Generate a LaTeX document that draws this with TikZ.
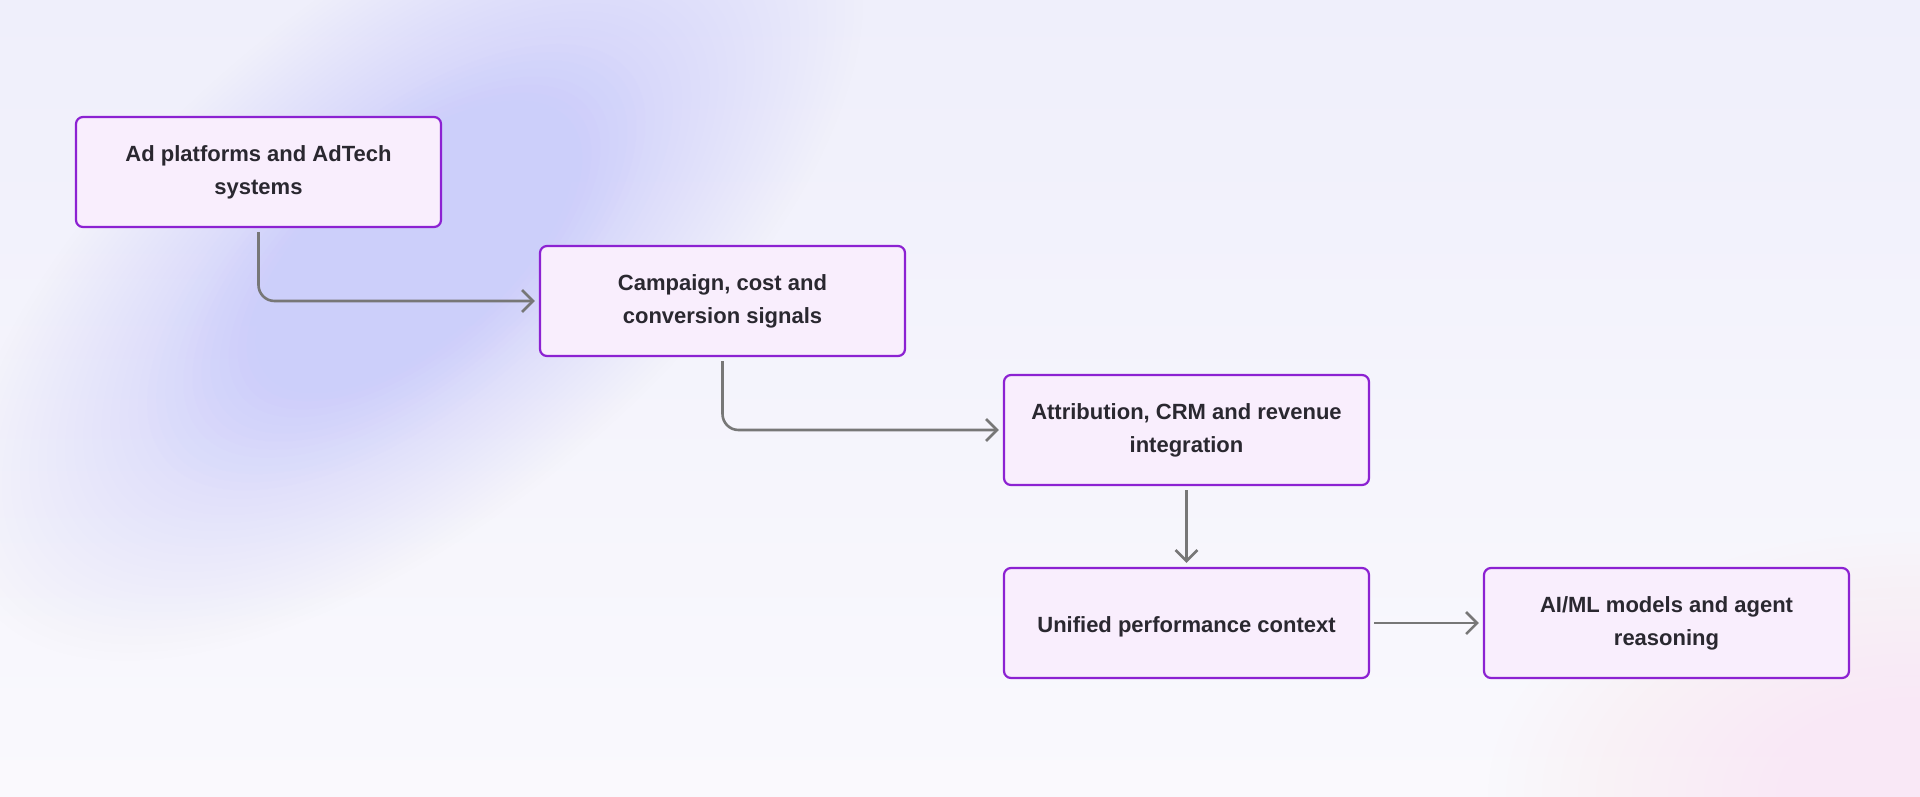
\documentclass[tikz,border=0pt]{standalone}
\usepackage{fontspec}
\setmainfont{Liberation Sans}
\usetikzlibrary{arrows.meta}
\definecolor{bgtop}{HTML}{EFEFFB}
\definecolor{bgbot}{HTML}{FAF9FD}
\definecolor{blobc}{HTML}{CCCFFA}
\definecolor{pinkc}{HTML}{F9E8F6}
\definecolor{boxfill}{HTML}{F9EEFD}
\definecolor{boxborder}{HTML}{8C22D2}
\definecolor{textc}{HTML}{2A2830}
\definecolor{arrowc}{HTML}{777777}
\begin{document}
\begin{tikzpicture}[x=1pt,y=-1pt,
  box/.style={draw=boxborder, line width=2.2pt, fill=boxfill, rounded corners=7pt,
    minimum width=365pt, minimum height=110pt, inner sep=0pt, align=center,
    font=\fontsize{22}{33}\selectfont\bfseries, text=textc,
    execute at begin node={\rule{0pt}{23pt}}},
  flow/.style={draw=arrowc, line width=2.6pt, -{Straight Barb[length=11pt,width=22pt]},
    rounded corners=16pt, shorten >=4pt, shorten <=4pt}]
% background
\shade[top color=bgtop, bottom color=bgbot] (0,0) rectangle (1920,796);
\useasboundingbox (0,0) rectangle (1920,796);
\begin{scope}[shift={(1920,796)}]
  \foreach \k [evaluate=\k as \op using {0.035*(1-\k/26)}] in {1,...,25}
    \fill[pinkc, opacity=\op] (0,0) ellipse ({\k*18pt} and {\k*11pt});
\end{scope}
\begin{scope}[shift={(410,255)}, rotate=40]
  \foreach \k [evaluate=\k as \op using {0.06*(1-\k/52)}] in {1,...,50}
    \fill[blobc, opacity=\op] (0,0) ellipse ({\k*11pt} and {\k*5.2pt});
\end{scope}
\begin{scope}[shift={(250,820)}]
  \foreach \k [evaluate=\k as \op using {0.08*(1-\k/32)}] in {1,...,30}
    \fill[white, opacity=\op] (0,0) ellipse ({\k*30pt} and {\k*11pt});
\end{scope}
% nodes
\node[box] (ad) at (258.5,172) {Ad platforms and AdTech\\systems};
\node[box] (camp) at (722.5,301) {Campaign, cost and\\conversion signals};
\node[box] (attr) at (1186.5,430) {Attribution, CRM and revenue\\integration};
\node[box] (unif) at (1186.5,623) {Unified performance context};
\node[box] (aiml) at (1666.5,623) {AI/ML models and agent\\reasoning};
% connectors
\draw[flow] (ad.south) |- (camp.west);
\draw[flow] (camp.south) |- (attr.west);
\draw[flow] (attr.south) -- (unif.north);
\draw[flow] (unif.east) -- (aiml.west);
\end{tikzpicture}
\end{document}
